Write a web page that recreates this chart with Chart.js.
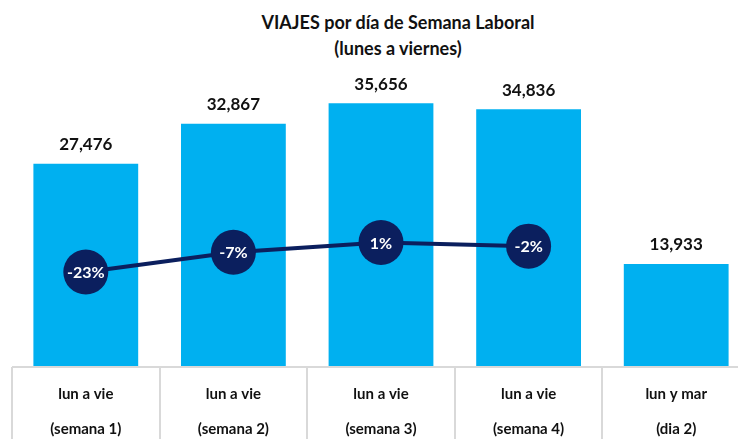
<!DOCTYPE html>
<html>
<head>
<meta charset="utf-8">
<script src="https://cdn.jsdelivr.net/npm/chart.js@4/dist/chart.umd.min.js"></script>
<style>
  body { margin: 0; background: #fff; overflow: hidden; }
  #wrap { width: 738px; height: 439px; position: relative; overflow: hidden; }
  #title {
    font-family: Lato, "Open Sans", sans-serif;
    font-weight: bold;
    font-size: 18px;
    line-height: 26px;
    text-align: center;
    color: #111;
    padding-top: 9px;
    margin-left: 58px;
    width: 680px;
    height: 53px;
  }
  #box { width: 751px; height: 377px; }
</style>
</head>
<body>
<div id="wrap">
  <div id="title">VIAJES por día de Semana Laboral<br>(lunes a viernes)</div>
  <div id="box"><canvas id="myChart"></canvas></div>
</div>
<script>
const categories = [
  ['lun a vie', '(semana 1)'],
  ['lun a vie', '(semana 2)'],
  ['lun a vie', '(semana 3)'],
  ['lun a vie', '(semana 4)'],
  ['lun y mar', '(dia 2)']
];
const viajes = [27476, 32867, 35656, 34836, 13933];
const variacion = [-23, -7, 1, -2, null];

const ctx = document.getElementById('myChart');

// etiquetas de valores y separadores del eje
const etiquetas = {
  id: 'etiquetas',
  afterDatasetsDraw(chart) {
    const c = chart.ctx;
    c.save();
    c.textAlign = 'center';
    c.textBaseline = 'middle';
    // valores arriba de las barras
    c.font = 'bold 17px Lato, "Open Sans", sans-serif';
    c.fillStyle = '#111';
    chart.getDatasetMeta(1).data.forEach((el, i) => {
      c.fillText(viajes[i].toLocaleString('en-US'), el.x, el.y - 19);
    });
    // porcentajes dentro de los circulos
    c.font = 'bold 16px Lato, "Open Sans", sans-serif';
    c.fillStyle = '#fff';
    chart.getDatasetMeta(0).data.forEach((el, i) => {
      if (variacion[i] === null) return;
      c.fillText(variacion[i] + '%', el.x, el.y + 1);
    });
    c.restore();
  },
  afterDraw(chart) {
    const c = chart.ctx;
    const x = chart.scales.x;
    const w = (x.right - x.left) / categories.length;
    c.save();
    c.strokeStyle = '#d9d9d9';
    c.lineWidth = 2;
    c.beginPath();
    for (let i = 0; i <= categories.length; i++) {
      const px = Math.round(x.left + i * w);
      c.moveTo(px, chart.chartArea.bottom);
      c.lineTo(px, chart.height);
    }
    c.moveTo(x.left, chart.chartArea.bottom);
    c.lineTo(x.right, chart.chartArea.bottom);
    c.stroke();
    c.restore();
  }
};

let grafico = new Chart(ctx, {
  data: {
    labels: categories,
    datasets: [
      {
        type: 'line',
        label: 'Variación',
        data: variacion,
        yAxisID: 'y2',
        borderColor: '#0b1f5e',
        borderWidth: 4,
        pointRadius: 22.5,
        pointHoverRadius: 22.5,
        pointBackgroundColor: '#0b1f5e',
        pointBorderWidth: 0,
        tension: 0,
        clip: false,
        order: 0
      },
      {
        type: 'bar',
        label: 'Viajes',
        data: viajes,
        yAxisID: 'y',
        backgroundColor: '#00b0f0',
        barPercentage: 0.71,
        categoryPercentage: 1,
        order: 1
      }
    ]
  },
  options: {
    responsive: true,
    maintainAspectRatio: false,
    animation: false,
    layout: { autoPadding: false, padding: { top: 9, left: 12, right: 1, bottom: 0 } },
    scales: {
      x: {
        grid: { display: false },
        border: { display: false },
        afterFit: (scale) => { scale.height = 72; },
        ticks: {
          padding: 2,
          color: '#111',
          font: { family: 'Lato, "Open Sans", sans-serif', size: 15, weight: 'bold', lineHeight: 2.33 }
        }
      },
      y: { display: false, min: 0, max: 40000 },
      y2: { display: false, min: -100, max: 140 }
    },
    plugins: {
      legend: { display: false },
      tooltip: { enabled: false }
    }
  },
  plugins: [etiquetas]
});
</script>
</body>
</html>
